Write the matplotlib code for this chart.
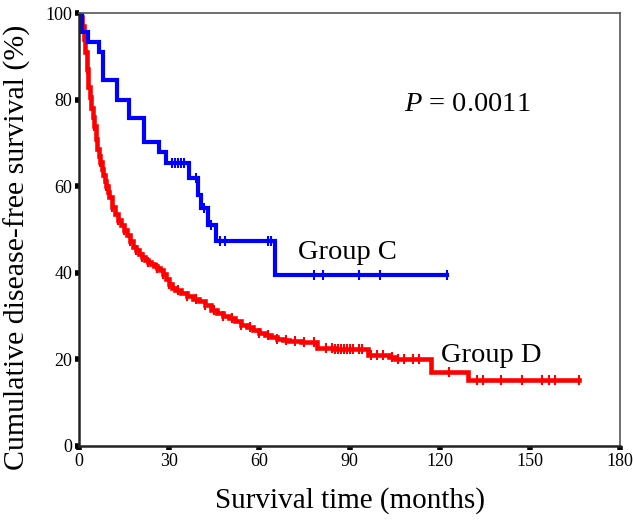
import numpy as np
import matplotlib
matplotlib.use("Agg")
import matplotlib.pyplot as plt

plt.rcParams['font.family'] = ['Liberation Serif', 'DejaVu Serif']
plt.rcParams['mathtext.fontset'] = 'custom'
plt.rcParams['mathtext.rm'] = 'Liberation Serif'
plt.rcParams['mathtext.it'] = 'Liberation Serif:italic'

# Group C (blue): step times and survival after each step
times_c = [0, 1, 3, 6.5, 8, 12.5, 16.5, 21.5, 26.5, 28.8, 36.6, 39.6, 40.6, 43, 45.5, 65.3, 122.5]
surv_c = [100, 95.6, 93.4, 91.1, 84.5, 80, 75.7, 70.3, 68, 65.3, 61.9, 58, 54.9, 51, 47.4, 39.5, 39.5]
cens_c = [31, 32, 33, 34, 35, 39, 41.5, 44, 47, 48.5, 63, 64, 78, 81, 93, 100, 122.5]

# Group D (red)
times_d = [0, 0.5, 1, 1.5, 2, 2.5, 3, 3.5, 4, 4.5, 5, 5.5, 6, 6.5, 7, 7.5, 8, 8.5, 9,
           9.5, 10, 11, 12, 13, 14, 15, 16, 17, 18,
           19, 20, 21, 22, 23, 24, 25, 26, 27, 28, 29, 30, 31, 32, 34, 36, 38, 40,
           42, 44, 46, 48, 50, 52, 54, 56, 58, 60, 62, 64, 66, 68, 70, 72, 74, 79,
           85, 96, 103, 105, 117, 129.5, 166.5]
surv_d = [100, 99, 97, 94, 91, 87, 83, 80.5, 78, 76, 74, 71, 68.5, 67, 65.5, 64, 62.5,
          61.2, 60, 58.7, 57.5, 55.3, 53.5, 52.2,
          51, 50, 48.8, 47.3, 46, 45.2, 44.3, 43.6, 43, 42.6, 42.1, 41.5, 41, 40.6,
          39.8, 38.6, 37.5, 36.5, 36, 35.3, 34.6, 34, 33.5, 32.5, 31.5, 30.7, 30,
          29.5, 28.8, 28, 27.4, 26.8, 26.2, 25.6, 25.2, 24.8, 24.5, 24.3, 24.2, 24.1,
          22.6, 22.3, 21, 20.6, 20.2, 17.2, 15.3, 15.3]
cens_d = [2.5, 5, 7, 9, 11, 13, 15, 17, 19, 21, 23, 26, 28, 30, 33, 36, 39, 42, 45,
          48, 51, 54, 57, 60, 63, 66, 69, 72, 75, 78, 82, 84, 85, 86, 87, 88, 89, 90,
          91, 93, 94, 97, 99, 101, 104, 106, 108, 111, 113, 123, 132.5, 134.5, 140.5,
          147.5, 154, 156.5, 158.5, 166.5]


def step_at(t, times, surv):
    idx = np.searchsorted(times, t, side='right') - 1
    return np.array(surv)[idx]


fig = plt.figure(figsize=(6.33, 5.22), dpi=100)
ax = fig.add_axes([0.125, 0.1456, 0.8545, 0.8294])

for times, surv, cens, col, lw in [(times_d, surv_d, cens_d, '#ff0000', 3.3),
                                   (times_c, surv_c, cens_c, '#0000ff', 3.0)]:
    ax.step(times, surv, where='post', color=col, lw=lw, solid_joinstyle='miter')
    ax.plot(cens, step_at(np.array(cens), times, surv), ls='none', marker='|',
            ms=7, mew=1.5, color=col)

ax.text(73, 44.6, "Group C", fontsize=20.5, va='center', ha='left')
ax.text(137, 21, "Group D", fontsize=20.5, va='center', ha='center')
ax.text(129, 78.8, "$P$ = 0.0011", fontsize=20.5, va='center', ha='center')

ax.set_xlim(0, 180)
ax.set_ylim(0, 100)
ax.set_xticks(range(0, 181, 30))
ax.set_yticks(range(0, 101, 20))
ax.tick_params(direction='out', length=3, width=4, labelsize=13, pad=2, color='black')

for s in ['left', 'bottom']:
    ax.spines[s].set_linewidth(1.8)
    ax.spines[s].set_color('#222222')
for s in ['top', 'right']:
    ax.spines[s].set_linewidth(1.2)
    ax.spines[s].set_color('#555555')

ax.set_xlabel("Survival time (months)", fontsize=21, labelpad=12)
ax.set_ylabel("Cumulative disease-free survival (%)", fontsize=21.5)
ax.yaxis.set_label_coords(-0.089, 0.46)

fig.savefig("out.png", dpi=100)
